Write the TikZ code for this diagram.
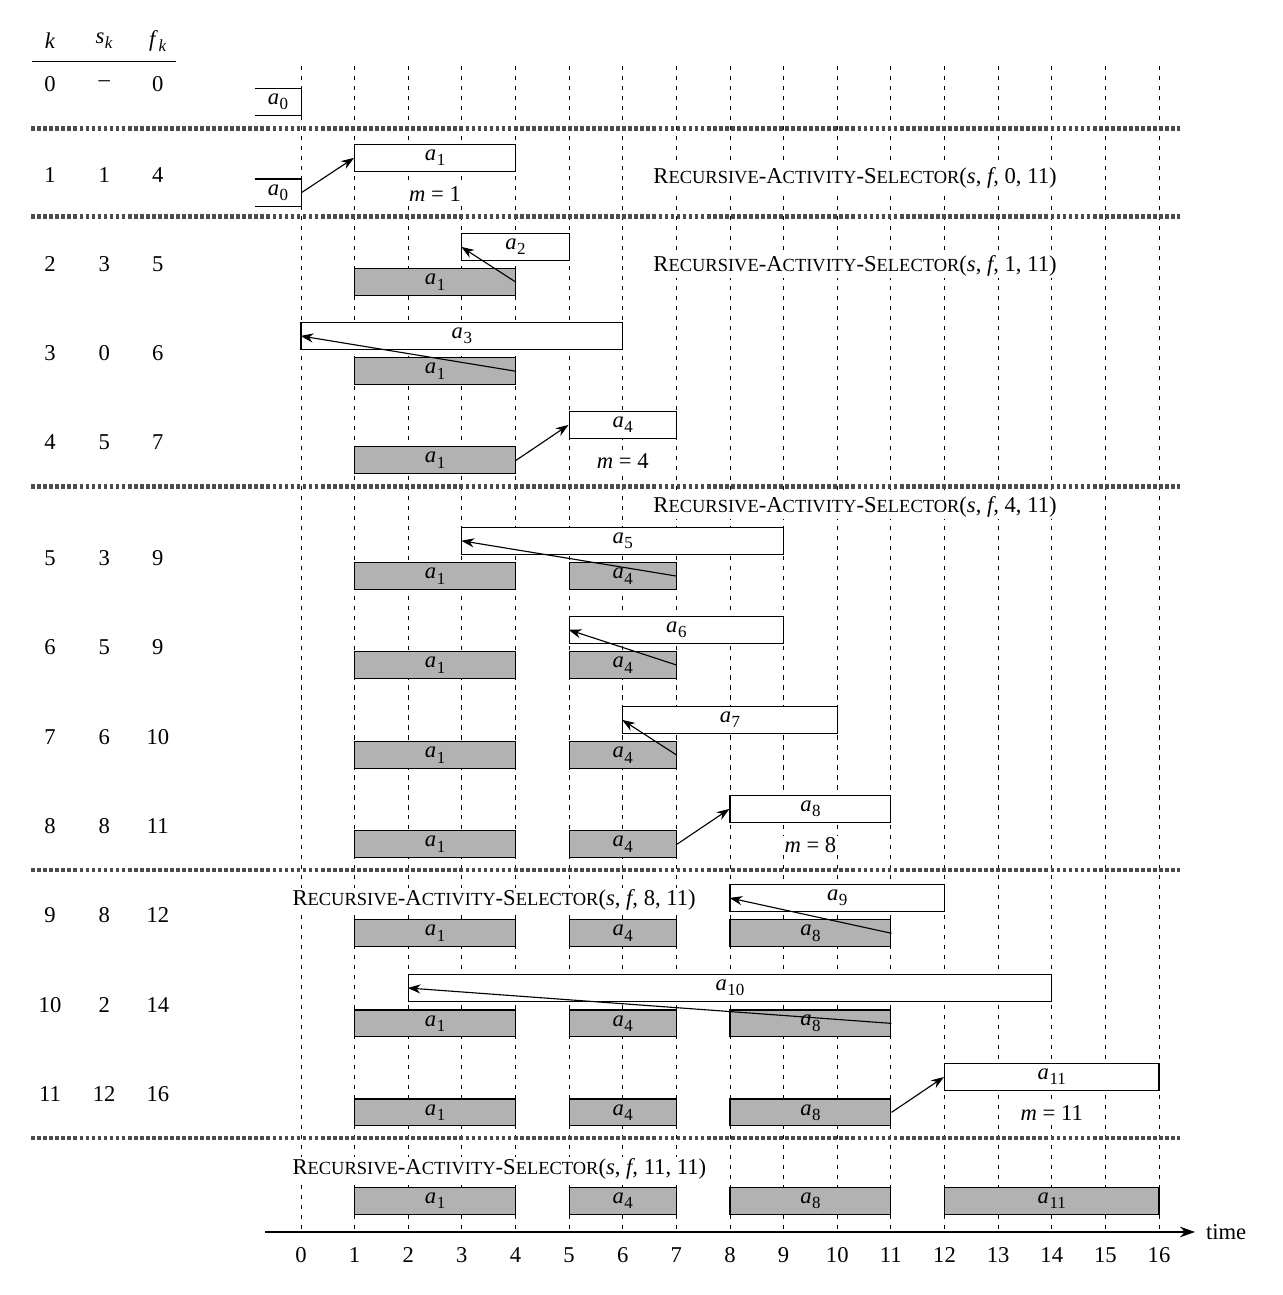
\documentclass[tikz,border=0pt]{standalone}
\usepackage{fontspec}
\setmainfont{Liberation Serif}
\usetikzlibrary{arrows.meta,positioning}
\newcommand{\sub}[1]{\kern0.3pt\raisebox{-2.8pt}{\fontsize{9}{10}\selectfont #1}}
\newcommand{\av}[1]{\textit{a}\sub{#1}}
\newcommand{\sct}[1]{{\fontsize{9.8}{11}\selectfont #1}}
\newcommand{\ras}[2]{R\sct{ECURSIVE}-A\sct{CTIVITY}-S\sct{ELECTOR}(\textit{s}, \textit{f}, #1, #2)}
\tikzset{
  cand/.style={draw, fill=white, line width=0.6pt, minimum height=0.5cm, inner sep=0pt},
  chosen/.style={cand, fill=black!30},
  timeline/.style={line width=0.5pt, dash pattern=on 2.2pt off 3.1pt},
  rowsep/.style={line width=2.6pt, black!70, dash pattern=on 2pt off 1.2pt},
  pick/.style={-{Stealth[length=2.4mm, width=1.7mm]}, line width=0.6pt},
  note/.style={fill=white, inner sep=1pt},
}

\begin{document}
\begin{tikzpicture}[x=1cm,y=1cm,font=\fontsize{12}{14}\selectfont]
\useasboundingbox (-5.613,-1.175) rectangle (18.294,22.974);

% ---- grid and axis ---------------------------------------------------------
\foreach \t in {0,...,16}
  \draw[timeline] (\t,21.74) -- (\t,0);
\coordinate (tl) at (-0.67,0);
\coordinate (tr) at (16.67,0);
\draw[-{Stealth[length=2.8mm, width=2mm]}, line width=0.6pt] (tl) -- (tr);
\node[right=0.2cm of tr, inner sep=0pt] (time) {time};
\foreach \t in {0,...,16}
  \node (tick\t) at (\t,-0.43) {\t};

% ---- table -----------------------------------------------------------------
\node (hk) at (-4.68,22.21) {\textit{k}};
\node (hs) at (-3.67,22.21) {\textit{s}\sub{\textit{k}}};
\node (hf) at (-2.67,22.21) {\textit{f}\sub{\textit{k}}};
\coordinate (ul) at (-5.02,21.82);
\coordinate (ur) at (-2.33,21.82);
\draw[line width=0.6pt] (ul) -- (ur);
\foreach \k/\s/\f/\y in {0/--/0/21.41, 1/1/4/19.71, 2/3/5/18.05, 3/0/6/16.39,
    4/5/7/14.73, 5/3/9/12.57, 6/5/9/10.91, 7/6/10/9.23, 8/8/11/7.57,
    9/8/12/5.91, 10/2/14/4.23, 11/12/16/2.57}{
  \node (k\k) at (-4.68,\y) {\k};
  \node (s\k) at (-3.67,\y) {\s};
  \node (f\k) at (-2.67,\y) {\f};
}

% ---- separators ------------------------------------------------------------
\foreach \y in {20.57,18.93,13.91,6.75,1.753}
  \draw[rowsep] (-5.03,\y) -- (16.39,\y);

% ---- row 0 -----------------------------------------------------------------
\node[minimum width=0.86cm, minimum height=0.5cm, inner sep=0pt] (r0a0) at (-0.43,21.07) {\av0};
\draw[line width=0.6pt] (r0a0.north west) -- (r0a0.north east) -- (r0a0.south east) -- (r0a0.south west);

% ---- row 1 -----------------------------------------------------------------
\node[cand, minimum width=3cm] (c1) at (2.5,20.03) {\av1};
\node[minimum width=0.86cm, minimum height=0.5cm, inner sep=0pt] (r1a0) at (-0.43,19.38) {\av0};
\draw[line width=0.6pt] (r1a0.north west) -- (r1a0.north east) -- (r1a0.south east) -- (r1a0.south west);
\draw[pick] (r1a0.east) -- (c1.west);
\node[note] (m1) at (2.5,19.36) {\textit{m} = 1};
\node[note, anchor=west] (call0) at (6.53,19.66) {\ras{0}{11}};

% ---- row 2 -----------------------------------------------------------------
\node[cand, minimum width=2cm] (c2) at (4,18.37) {\av2};
\node[chosen, minimum width=3cm] (r2a1) at (2.5,17.71) {\av1};
\draw[pick] (r2a1.east) -- (c2.west);
\node[note, anchor=west] (call1) at (6.53,18.01) {\ras{1}{11}};

% ---- row 3 -----------------------------------------------------------------
\node[cand, minimum width=6cm] (c3) at (3,16.71) {\av3};
\node[chosen, minimum width=3cm] (r3a1) at (2.5,16.05) {\av1};
\draw[pick] (r3a1.east) -- (c3.west);

% ---- row 4 -----------------------------------------------------------------
\node[cand, minimum width=2cm] (c4) at (6,15.05) {\av4};
\node[chosen, minimum width=3cm] (r4a1) at (2.5,14.39) {\av1};
\draw[pick] (r4a1.east) -- (c4.west);
\node[note] (m4) at (6,14.37) {\textit{m} = 4};
\node[note, anchor=west] (call4) at (6.53,13.52) {\ras{4}{11}};

% ---- row 5 -----------------------------------------------------------------
\node[cand, minimum width=6cm] (c5) at (6,12.89) {\av5};
\node[chosen, minimum width=3cm] (r5a1) at (2.5,12.23) {\av1};
\node[chosen, minimum width=2cm] (r5a4) at (6,12.23) {\av4};
\draw[pick] (r5a4.east) -- (c5.west);

% ---- row 6 -----------------------------------------------------------------
\node[cand, minimum width=4cm] (c6) at (7,11.23) {\av6};
\node[chosen, minimum width=3cm] (r6a1) at (2.5,10.57) {\av1};
\node[chosen, minimum width=2cm] (r6a4) at (6,10.57) {\av4};
\draw[pick] (r6a4.east) -- (c6.west);

% ---- row 7 -----------------------------------------------------------------
\node[cand, minimum width=4cm] (c7) at (8,9.55) {\av7};
\node[chosen, minimum width=3cm] (r7a1) at (2.5,8.89) {\av1};
\node[chosen, minimum width=2cm] (r7a4) at (6,8.89) {\av4};
\draw[pick] (r7a4.east) -- (c7.west);

% ---- row 8 -----------------------------------------------------------------
\node[cand, minimum width=3cm] (c8) at (9.5,7.89) {\av8};
\node[chosen, minimum width=3cm] (r8a1) at (2.5,7.23) {\av1};
\node[chosen, minimum width=2cm] (r8a4) at (6,7.23) {\av4};
\draw[pick] (r8a4.east) -- (c8.west);
\node[note] (m8) at (9.5,7.21) {\textit{m} = 8};
\node[note, anchor=west] (call8) at (-0.2,6.19) {\ras{8}{11}};

% ---- row 9 -----------------------------------------------------------------
\node[cand, minimum width=4cm] (c9) at (10,6.23) {\av9};
\node[chosen, minimum width=3cm] (r9a1) at (2.5,5.57) {\av1};
\node[chosen, minimum width=2cm] (r9a4) at (6,5.57) {\av4};
\node[chosen, minimum width=3cm] (r9a8) at (9.5,5.57) {\av8};
\draw[pick] (r9a8.east) -- (c9.west);

% ---- row 10 ----------------------------------------------------------------
\node[cand, minimum width=12cm] (c10) at (8,4.55) {\av{10}};
\node[chosen, minimum width=3cm] (r10a1) at (2.5,3.89) {\av1};
\node[chosen, minimum width=2cm] (r10a4) at (6,3.89) {\av4};
\node[chosen, minimum width=3cm] (r10a8) at (9.5,3.89) {\av8};
\draw[pick] (r10a8.east) -- (c10.west);

% ---- row 11 ----------------------------------------------------------------
\node[cand, minimum width=4cm] (c11) at (14,2.89) {\av{11}};
\node[chosen, minimum width=3cm] (r11a1) at (2.5,2.23) {\av1};
\node[chosen, minimum width=2cm] (r11a4) at (6,2.23) {\av4};
\node[chosen, minimum width=3cm] (r11a8) at (9.5,2.23) {\av8};
\draw[pick] (r11a8.east) -- (c11.west);
\node[note] (m11) at (14,2.21) {\textit{m} = 11};

% ---- final -----------------------------------------------------------------
\node[note, anchor=west] (call11) at (-0.2,1.175) {\ras{11}{11}};
\node[chosen, minimum width=3cm] (fa1) at (2.5,0.578) {\av1};
\node[chosen, minimum width=2cm] (fa4) at (6,0.578) {\av4};
\node[chosen, minimum width=3cm] (fa8) at (9.5,0.578) {\av8};
\node[chosen, minimum width=4cm] (fa11) at (14,0.578) {\av{11}};

\end{tikzpicture}
\end{document}
